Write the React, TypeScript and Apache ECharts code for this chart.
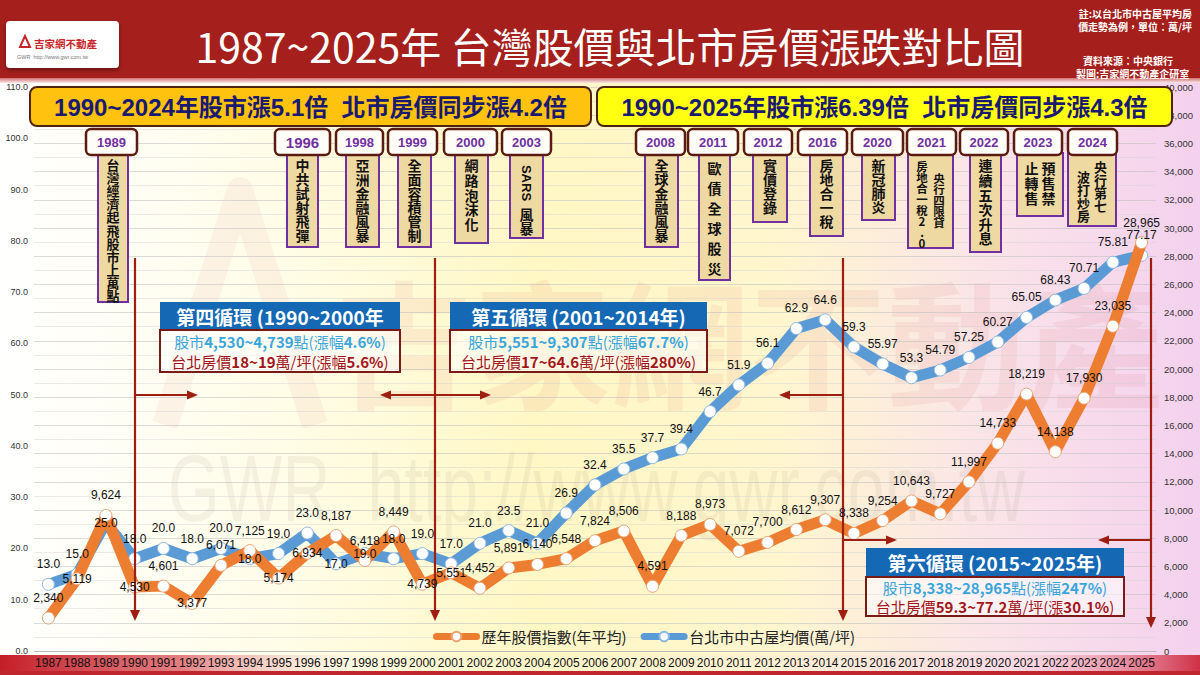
import React, { useEffect, useRef } from "react";
import * as echarts from "echarts";

// ---------- data ----------
const years = [
  "1987", "1988", "1989", "1990", "1991", "1992", "1993", "1994", "1995", "1996",
  "1997", "1998", "1999", "2000", "2001", "2002", "2003", "2004", "2005", "2006",
  "2007", "2008", "2009", "2010", "2011", "2012", "2013", "2014", "2015", "2016",
  "2017", "2018", "2019", "2020", "2021", "2022", "2023", "2024", "2025",
];
const stockIndex = [
  2340, 5119, 9624, 4530, 4601, 3377, 6071, 7125, 5174, 6934,
  8187, 6418, 8449, 4739, 5551, 4452, 5891, 6140, 6548, 7824,
  8506, 4591, 8188, 8973, 7072, 7700, 8612, 9307, 8338, 9254,
  10643, 9727, 11997, 14733, 18219, 14138, 17930, 23035, 28965,
];
const housePrice = [
  13.0, 15.0, 25.0, 18.0, 20.0, 18.0, 20.0, 18.0, 19.0, 23.0,
  17.0, 19.0, 18.0, 19.0, 17.0, 21.0, 23.5, 21.0, 26.9, 32.4,
  35.5, 37.7, 39.4, 46.7, 51.9, 56.1, 62.9, 64.6, 59.3, 55.97,
  53.3, 54.79, 57.25, 60.27, 65.05, 68.43, 70.71, 75.81, 77.17,
];
const seriesNames = ["歷年股價指數(年平均)", "台北市中古屋均價(萬/坪)"];
const leftTicks = { min: 0, max: 110, interval: 10 };
const rightTicks = { min: 0, max: 40000, interval: 2000 };

const titleText = "1987~2025年 台灣股價與北市房價漲跌對比圖";
const bannerTexts = [
  "1990~2024年股市漲5.1倍  北市房價同步漲4.2倍",
  "1990~2025年股市漲6.39倍  北市房價同步漲4.3倍",
];
const noteLines = ["註:以台北市中古屋平均房", "價走勢為例，單位：萬/坪"];
const sourceLines = ["資料來源：中央銀行", "製圖:吉家網不動產企研室"];

const eventYears = ["1989", "1996", "1998", "1999", "2000", "2003", "2008", "2011", "2012", "2016", "2020", "2021", "2022", "2023", "2024"];
const eventNotes = [
  ["台灣經濟起飛股市上萬點"],
  ["中共試射飛彈"],
  ["亞洲金融風暴"],
  ["全面容積管制"],
  ["網路泡沫化"],
  ["SARS風暴"],
  ["全球金融風暴"],
  ["歐債全球股災"],
  ["實價登錄"],
  ["房地合一稅"],
  ["新冠肺炎"],
  ["央行四限貸", "房地合一稅2.0"],
  ["連續五次升息"],
  ["預售禁", "止轉售"],
  ["央行第七", "波打炒房"],
];

const cycleTitles = ["第四循環 (1990~2000年", "第五循環 (2001~2014年)", "第六循環 (2015~2025年)"];
const cycleStock = ["股市4,530~4,739點(漲幅4.6%)", "股市5,551~9,307點(漲幅67.7%)", "股市8,338~28,965點(漲幅247%)"];
const cycleHouse = ["台北房價18~19萬/坪(漲幅5.6%)", "台北房價17~64.6萬/坪(漲幅280%)", "台北房價59.3~77.2萬/坪(漲30.1%)"];

// ---------- layout / style ----------
const CJK = "'Noto Sans CJK TC', 'Noto Sans CJK SC', sans-serif";
const LAT = "'Liberation Sans', 'Noto Sans CJK TC', sans-serif";
const ORANGE = "#ED7D31";
const BLUE = "#5B9BD5";
const DARKRED = "#9E1F12";

// years whose data label sits on the point rather than above it
const stockLabelOnPoint = new Set(["1988", "1990", "1992", "1995", "1996", "2000", "2001"]);
const houseLabelOnPoint = new Set(["1989", "1994", "1997", "1998"]);

const eventLayout = [
  { yx: 86, yw: 51, tx: 98, tw: 30, tb: 302, fs: 13, lh: 13.1 },
  { yx: 275, yw: 55, tx: 287, tw: 31, tb: 247, fs: 14, lh: 14 },
  { yx: 336, yw: 47, tx: 346, tw: 33, tb: 247, fs: 14, lh: 14 },
  { yx: 388, yw: 49, tx: 398, tw: 33, tb: 247, fs: 14, lh: 14 },
  { yx: 444, yw: 53, tx: 455, tw: 33, tb: 243, fs: 14, lh: 14.6 },
  { yx: 502, yw: 49, tx: 510, tw: 33, tb: 238, fs: 14, lh: 14 },
  { yx: 636, yw: 49, tx: 645, tw: 33, tb: 247, fs: 14, lh: 14 },
  { yx: 688, yw: 50, tx: 699, tw: 31, tb: 280, fs: 14, lh: 20 },
  { yx: 744, yw: 48, tx: 753, tw: 34, tb: 222, fs: 14, lh: 14 },
  { yx: 798, yw: 49, tx: 810, tw: 33, tb: 236, fs: 14, lh: 14 },
  { yx: 852, yw: 51, tx: 862, tw: 33, tb: 220, fs: 14, lh: 14 },
  { yx: 907, yw: 49, tx: 908, tw: 45, tb: 248, fs: 11.5, lh: 11 },
  { yx: 960, yw: 48, tx: 970, tw: 31, tb: 252, fs: 14, lh: 14.6 },
  { yx: 1014, yw: 48, tx: 1017, tw: 46, tb: 216, fs: 14, lh: 15 },
  { yx: 1068, yw: 49, tx: 1068, tw: 48, tb: 226, fs: 13, lh: 13 },
];
const cycleLayout = [
  { x: 160, w: 240, ty: 302, by: 330, bh: 42 },
  { x: 450, w: 257, ty: 302, by: 330, bh: 42 },
  { x: 866, w: 258, ty: 548, by: 577, bh: 39 },
];

function richBold(s: string) {
  return s.replace(/([0-9][0-9.,~%]*)/g, "{b|$1}");
}

function vArrow(x: number, y1: number, y2: number): any[] {
  return [
    { type: "line", z: 6, silent: true, shape: { x1: x, y1, x2: x, y2: y2 - 6 }, style: { stroke: DARKRED, lineWidth: 2.2 } },
    { type: "polygon", z: 6, silent: true, shape: { points: [[x - 5, y2 - 11], [x + 5, y2 - 11], [x, y2]] }, style: { fill: DARKRED } },
  ];
}
function hArrow(x1: number, x2: number, y: number): any[] {
  const d = x2 > x1 ? 1 : -1;
  return [
    { type: "line", z: 6, silent: true, shape: { x1, y1: y, x2: x2 - d * 6, y2: y }, style: { stroke: DARKRED, lineWidth: 2.2 } },
    { type: "polygon", z: 6, silent: true, shape: { points: [[x2 - d * 11, y - 4.5], [x2 - d * 11, y + 4.5], [x2, y]] }, style: { fill: DARKRED } },
  ];
}

function buildGraphics(): any[] {
  const g: any[] = [];
  g.push({
    type: "rect", z: -10, silent: true,
    shape: { x: 0, y: 80, width: 1200, height: 595 },
    style: {
      fill: new echarts.graphic.LinearGradient(0, 0, 1, 0, [
        { offset: 0, color: "#FFFFFF" },
        { offset: 0.25, color: "#FFFCE6" },
        { offset: 0.45, color: "#FFF7C4" },
        { offset: 0.65, color: "#FFF6CF" },
        { offset: 0.82, color: "#FAE4E8" },
        { offset: 1, color: "#F4D1EE" },
      ]),
    },
  });
  g.push({
    type: "rect", z: -9, silent: true,
    shape: { x: 0, y: 655, width: 1200, height: 20 },
    style: {
      fill: new echarts.graphic.LinearGradient(0, 0, 1, 0, [
        { offset: 0, color: "rgba(196,30,40,1)" },
        { offset: 0.15, color: "rgba(215,70,80,0.7)" },
        { offset: 0.32, color: "rgba(255,255,255,0)" },
        { offset: 0.85, color: "rgba(250,200,215,0.3)" },
        { offset: 1, color: "rgba(205,40,60,0.95)" },
      ]),
    },
  });
  g.push({ type: "rect", z: -8, silent: true, shape: { x: 0, y: 671, width: 1200, height: 4 }, style: { fill: "#C0262E" } });
  // watermark
  g.push({
    type: "polyline", z: -2, silent: true,
    shape: { points: [[165, 425], [240, 190], [315, 425]] },
    style: { stroke: "rgba(200,60,60,0.06)", lineWidth: 26, fill: null, lineJoin: "round" },
  });
  g.push({
    type: "text", z: -2, silent: true, x: 335, y: 338,
    style: { text: "吉家網不動產", fill: "rgba(200,60,60,0.07)", fontSize: 138, fontWeight: "bold", fontFamily: CJK, textVerticalAlign: "middle" },
  });
  g.push({
    type: "text", z: -2, silent: true, x: 168, y: 488, scaleX: 0.7,
    style: { text: "GWR  http://www.gwr.com.tw", fill: "rgba(150,140,120,0.1)", fontSize: 95, fontFamily: LAT, textVerticalAlign: "middle" },
  });
  // header
  g.push({ type: "rect", z: 20, silent: true, shape: { x: 0, y: 0, width: 1200, height: 80 }, style: { fill: "#A51F1C" } });
  g.push({
    type: "rect", z: 20, silent: true, shape: { x: 0, y: 78, width: 1200, height: 5 },
    style: { fill: new echarts.graphic.LinearGradient(0, 0, 0, 1, [{ offset: 0, color: "#D07070" }, { offset: 1, color: "#FBEAEA" }]) },
  });
  g.push({
    type: "rect", z: 21, silent: true, shape: { x: 6, y: 21, width: 113, height: 47, r: 4 },
    style: { fill: "#FFFFFF", shadowBlur: 4, shadowColor: "rgba(0,0,0,0.4)", shadowOffsetY: 2 },
  });
  g.push({ type: "polygon", z: 22, silent: true, shape: { points: [[20, 47], [25, 36], [30, 47]] }, style: { fill: null, stroke: "#C8262B", lineWidth: 2 } });
  g.push({ type: "text", z: 22, silent: true, x: 34, y: 43, style: { text: "吉家網不動產", fill: "#C8262B", fontSize: 10.5, fontWeight: "bold", fontFamily: CJK, textVerticalAlign: "middle" } });
  g.push({ type: "text", z: 22, silent: true, x: 17, y: 57, style: { text: "GWR  http://www.gwr.com.tw", fill: "#777", fontSize: 5.5, fontFamily: LAT, textVerticalAlign: "middle" } });
  g.push({
    type: "text", z: 22, silent: true, x: 610, y: 45,
    style: { text: titleText, fill: "#FFFFFF", fontSize: 41, fontFamily: CJK, textAlign: "center", textVerticalAlign: "middle" },
  });
  noteLines.forEach((t, i) =>
    g.push({ type: "text", z: 22, silent: true, x: 1192, y: 13 + i * 13, style: { text: t, fill: "#FFFFFF", fontSize: 10, fontWeight: "bold", fontFamily: CJK, textAlign: "right", textVerticalAlign: "middle" } })
  );
  sourceLines.forEach((t, i) =>
    g.push({ type: "text", z: 22, silent: true, x: i === 0 ? 1083 : 1076, y: 60 + i * 13, style: { text: t, fill: "#FFFFFF", fontSize: 10, fontWeight: "bold", fontFamily: CJK, textVerticalAlign: "middle" } })
  );
  // banners
  const banners = [
    { x: 30, w: 561, fill: "#FFC20E" },
    { x: 597, w: 575, fill: "#FFFF10" },
  ];
  banners.forEach((b, i) => {
    g.push({ type: "rect", z: 21, silent: true, shape: { x: b.x, y: 87, width: b.w, height: 39, r: 7 }, style: { fill: b.fill, stroke: "#4E2410", lineWidth: 2 } });
    g.push({
      type: "text", z: 22, silent: true, x: b.x + b.w / 2, y: 107,
      style: { text: bannerTexts[i], fill: "#1A1A70", fontSize: 24, fontWeight: "bold", fontFamily: LAT, textAlign: "center", textVerticalAlign: "middle" },
    });
  });
  // events
  eventYears.forEach((yr, i) => {
    const L = eventLayout[i];
    g.push({ type: "rect", z: 12, silent: true, shape: { x: L.tx, y: 153, width: L.tw, height: L.tb - 153 }, style: { fill: "#EFD9A3", stroke: "#7030A0", lineWidth: 2 } });
    g.push({ type: "rect", z: 13, silent: true, shape: { x: L.yx, y: 129, width: L.yw, height: 26, r: 5 }, style: { fill: "#FFFDF8", stroke: "#5A1C10", lineWidth: 2.5 } });
    g.push({
      type: "text", z: 14, silent: true, x: L.yx + L.yw / 2, y: 142.5,
      style: { text: yr, fill: "#7030A0", fontSize: yr === "1996" ? 15 : 13, fontWeight: "bold", fontFamily: LAT, textAlign: "center", textVerticalAlign: "middle" },
    });
    const cols = eventNotes[i];
    const cx = L.tx + L.tw / 2;
    if (yr === "2003") {
      g.push({ type: "text", z: 14, silent: true, x: cx, y: 183, rotation: -Math.PI / 2, style: { text: "SARS", fill: "#111", fontSize: 13, fontWeight: "bold", fontFamily: LAT, textAlign: "center", textVerticalAlign: "middle" } });
      g.push({ type: "text", z: 14, silent: true, x: cx, y: 207, style: { text: "風\n暴", fill: "#111", fontSize: 14, lineHeight: 14, fontWeight: "bold", fontFamily: CJK, textAlign: "center", textVerticalAlign: "top" } });
      return;
    }
    cols.forEach((c, k) => {
      const colX = cols.length === 1 ? cx : cx + (k === 0 ? 8.5 : -8.5);
      const topY = cols.length === 1 ? 158 : yr === "2021" ? (k === 0 ? 172 : 160) : yr === "2024" ? (k === 0 ? 160 : 170) : 160;
      g.push({
        type: "text", z: 14, silent: true, x: colX, y: topY,
        style: { text: c.split("").join("\n"), fill: "#111", fontSize: L.fs, lineHeight: L.lh, fontWeight: "bold", fontFamily: CJK, textAlign: "center", textVerticalAlign: "top" },
      });
    });
  });
  // cycle arrows
  [135, 435, 843, 1151].forEach((x) => g.push(...vArrow(x, 258, x === 1151 ? 628 : 621)));
  g.push(...hArrow(135, 198, 395));
  g.push(...hArrow(435, 380, 395));
  g.push(...hArrow(435, 491, 395));
  g.push(...hArrow(843, 779, 395));
  g.push(...hArrow(843, 897, 540));
  g.push(...hArrow(1151, 1098, 540));
  // cycle boxes
  cycleLayout.forEach((C, i) => {
    g.push({ type: "rect", z: 12, silent: true, shape: { x: C.x, y: C.ty, width: C.w, height: C.by - C.ty - 1 }, style: { fill: "#1468B4" } });
    g.push({
      type: "text", z: 13, silent: true, x: C.x + C.w / 2, y: (C.ty + C.by) / 2,
      style: { text: cycleTitles[i], fill: "#FFFFFF", fontSize: 19, fontWeight: "bold", fontFamily: CJK, textAlign: "center", textVerticalAlign: "middle" },
    });
    g.push({ type: "rect", z: 12, silent: true, shape: { x: C.x, y: C.by, width: C.w, height: C.bh }, style: { fill: "rgba(255,255,255,0.55)", stroke: "#7A1A16", lineWidth: 2 } });
    const lineH = C.bh / 2;
    g.push({
      type: "text", z: 13, silent: true, x: C.x + C.w / 2, y: C.by + lineH * 0.55,
      style: {
        text: richBold(cycleStock[i]), fill: "#3AA5DA", fontSize: 15, fontFamily: CJK, textAlign: "center", textVerticalAlign: "middle",
        rich: { b: { fill: "#3AA5DA", fontSize: 15, fontWeight: "bold", fontFamily: CJK } },
      },
    });
    g.push({
      type: "text", z: 13, silent: true, x: C.x + C.w / 2, y: C.by + lineH * 1.5,
      style: {
        text: richBold(cycleHouse[i]), fill: "#A3151B", fontSize: 15, fontFamily: CJK, textAlign: "center", textVerticalAlign: "middle",
        rich: { b: { fill: "#A3151B", fontSize: 15, fontWeight: "bold", fontFamily: CJK } },
      },
    });
  });
  return g;
}

function fmtHouse(v: number) {
  return Math.abs(v * 10 - Math.round(v * 10)) < 1e-6 ? v.toFixed(1) : String(v);
}

const labelBase = { show: true, position: "top", distance: 8, color: "#111", fontSize: 12, fontFamily: LAT, opacity: 1 };

const App = () => {
  const ref = useRef<HTMLDivElement>(null);
  useEffect(() => {
    document.body.style.margin = "0";
    const chart = echarts.init(ref.current!, null, { renderer: "svg" });
    const houseLabels = housePrice.map((v, i) =>
      houseLabelOnPoint.has(years[i]) ? { value: [years[i], v], label: { position: "inside" } } : { value: [years[i], v] }
    );
    const stockLabels = stockIndex.map((v, i) =>
      stockLabelOnPoint.has(years[i]) ? { value: [years[i], v], label: { position: "inside" } } : { value: [years[i], v] }
    );
    const option: any = {
      animation: false,
      backgroundColor: "#FFFFFF",
      grid: { left: 34, right: 44, top: 87, bottom: 24 },
      legend: {
        left: 428, top: 624, itemWidth: 40, itemHeight: 12, itemGap: 14,
        textStyle: { fontSize: 15, fontFamily: CJK, color: "#222" },
        lineStyle: { width: 7 },
        data: seriesNames,
      },
      xAxis: {
        type: "category", data: years, boundaryGap: true,
        axisLine: { show: true, lineStyle: { color: "#BBBBBB" } },
        axisTick: { show: false },
        axisLabel: { color: "#111", fontSize: 12, fontFamily: LAT, margin: 6, interval: 0 },
      },
      yAxis: [
        {
          type: "value", ...leftTicks, position: "left",
          axisLine: { show: false }, axisTick: { show: false },
          axisLabel: { color: "#333", fontSize: 9, fontFamily: LAT, margin: 6, formatter: (v: number) => v.toFixed(1) },
          splitLine: { show: false },
        },
        {
          type: "value", ...rightTicks, position: "right",
          axisLine: { show: false }, axisTick: { show: false },
          axisLabel: { color: "#333", fontSize: 9.5, fontFamily: LAT, margin: 8, formatter: (v: number) => v.toLocaleString("en-US") },
          splitLine: { show: true, lineStyle: { color: "rgba(190,190,190,0.55)", width: 1 } },
          minorTick: { show: false, splitNumber: 2 },
          minorSplitLine: { show: true, lineStyle: { color: "rgba(210,210,210,0.45)", width: 1 } },
        },
      ],
      series: [
        {
          name: seriesNames[1], type: "line", yAxisIndex: 0, data: housePrice, color: BLUE,
          symbol: "circle", symbolSize: 12, z: 3,
          lineStyle: { color: BLUE, width: 11, join: "round", cap: "round" },
          itemStyle: { color: "#FFFFFF", borderColor: "#8FB8E0", borderWidth: 1 },
        },
        {
          name: seriesNames[0], type: "line", yAxisIndex: 1, data: stockIndex, color: ORANGE,
          symbol: "circle", symbolSize: 12, z: 4,
          lineStyle: { color: ORANGE, width: 11, join: "round", cap: "round" },
          itemStyle: { color: "#FFFFFF", borderColor: "#E9A477", borderWidth: 1 },
        },
        {
          name: "houseLabels", type: "scatter", yAxisIndex: 0, data: houseLabels, z: 10,
          symbol: "circle", symbolSize: 12, itemStyle: { color: "rgba(0,0,0,0)" }, silent: true,
          label: { ...labelBase, formatter: (p: any) => fmtHouse(p.value[1]) },
        },
        {
          name: "stockLabels", type: "scatter", yAxisIndex: 1, data: stockLabels, z: 10,
          symbol: "circle", symbolSize: 12, itemStyle: { color: "rgba(0,0,0,0)" }, silent: true,
          label: { ...labelBase, formatter: (p: any) => Number(p.value[1]).toLocaleString("en-US") },
        },
      ],
      graphic: buildGraphics(),
    };
    chart.setOption(option);
    return () => chart.dispose();
  }, []);
  return <div ref={ref} style={{ width: 1200, height: 675 }} />;
};

export default App;
